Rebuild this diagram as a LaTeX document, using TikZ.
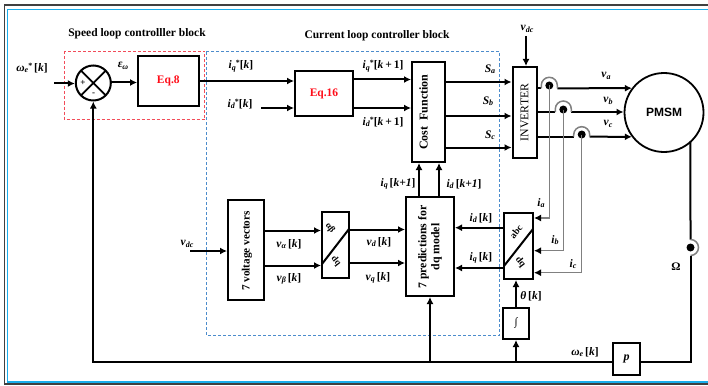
\documentclass[tikz,border=0pt]{standalone}
\usepackage{fontspec}
\setmainfont{Liberation Serif}
\setsansfont{Liberation Sans}
\usetikzlibrary{arrows.meta,calc}
\newcommand{\bi}[1]{\textbf{\textit{#1}}}
\newcommand{\subx}[1]{\raisebox{-1.5pt}{\footnotesize\bi{#1}}}
\newcommand{\vk}[2]{\bi{#1}\subx{#2}\,\textbf{[\textit{k}]}}
\newcommand{\vs}[3]{\bi{#1}\subx{#2}\raisebox{3pt}{\footnotesize\textbf{*}}\textbf{[\textit{k}#3]}}
\definecolor{sensegray}{gray}{0.5}
\definecolor{eqred}{rgb}{1,0.05,0.1}
\definecolor{dashred}{rgb}{0.95,0.3,0.35}
\definecolor{dashblue}{rgb}{0.3,0.55,0.8}
\definecolor{framecyan}{rgb}{0.1,0.68,0.92}
\tikzset{
  blk/.style={draw,line width=2pt,inner sep=0pt,outer sep=0pt},
  thinblk/.style={draw,line width=1.5pt,inner sep=0pt,outer sep=0pt},
  arr/.style={line width=2pt,-{Latex[length=7pt,width=7pt]},shorten >=1pt},
  lin/.style={line width=2pt},
  sense/.style={line width=1.5pt,draw=sensegray},
  sensearr/.style={line width=1.5pt,draw=sensegray,-{Latex[length=7pt,width=7pt,color=black]},shorten >=1pt},
  dotn/.style={circle,fill=black,inner sep=0pt,outer sep=0pt,minimum size=8pt},
  lab/.style={font=\fontsize{11.5}{12}\selectfont,inner sep=0pt},
  ttl/.style={font=\fontsize{11.5}{13}\selectfont\bfseries,inner sep=0pt},
  eqn/.style={font=\fontsize{11.5}{13}\selectfont\bfseries,text=eqred},
}
\begin{document}
\begin{tikzpicture}[x=1pt,y=-1pt]
\useasboundingbox (0,0) rectangle (708,385);
\fill[white] (0,0) rectangle (708,385);
% frames
\draw[line width=1.2pt,draw=black!75] (709,5) -- (4.5,5) -- (4.5,384) -- (709,384);
\draw[line width=1.2pt,draw=framecyan] (709,9.5) -- (7.5,9.5) -- (7.5,382) -- (709,382);
% dashed regions
\draw[dashblue,line width=1pt,dash pattern=on 3pt off 2pt] (206,52) rectangle (499.5,335);
\draw[dashred,line width=1pt,dash pattern=on 3pt off 2pt] (64.5,51.5) rectangle (204.5,119.5);
% titles
\node[ttl] (t1) at (137,34) {Speed loop controlller block};
\node[ttl] (t2) at (377,36) {Current loop controller block};
% blocks
\node[circle,draw,line width=2pt,minimum size=35pt,inner sep=0pt,outer sep=0pt] (sum) at (93.3,83) {};
\draw[line width=1.8pt] (sum.north west) -- (sum.south east) (sum.north east) -- (sum.south west);
\node[font=\fontsize{9}{10}\selectfont\bfseries,inner sep=0pt] (plus) at (83,83) {+};
\node[font=\fontsize{9}{10}\selectfont\bfseries,inner sep=0pt] (minus) at (93.5,94.5) {-};
\node[blk,minimum width=60.5pt,minimum height=50pt,eqn] (eq8) at (168.3,81) {Eq.8};
\node[blk,minimum width=58pt,minimum height=45pt,eqn] (eq16) at (324,93.5) {Eq.16};
\node[blk,minimum width=33pt,minimum height=100pt] (cost) at (428.5,112) {};
\node[rotate=90,font=\fontsize{12}{13}\selectfont\bfseries,inner sep=0pt] (costt) at (423.5,112) {Cost\ \ Function};
\node[blk,minimum width=24pt,minimum height=91pt] (inv) at (524.5,112.5) {};
\node[rotate=90,font=\fontsize{11.8}{13}\selectfont,inner sep=0pt] (invt) at (524.5,112.5) {INVERTER};
\node[circle,draw,line width=1.8pt,minimum size=79pt,inner sep=0pt,outer sep=0pt,font=\fontsize{12}{13}\selectfont\sffamily\bfseries] (pmsm) at (664,112.5) {PMSM};
\node[blk,minimum width=36pt,minimum height=100pt] (vv) at (246,250) {};
\node[rotate=90,font=\fontsize{11.2}{12}\selectfont\bfseries,inner sep=0pt] (vvt) at (247,251) {7 voltage vectors};
\node[thinblk,minimum width=27pt,minimum height=66pt] (ab) at (335.5,245) {};
\draw[line width=2pt] (ab.west |- 0,264) -- (ab.east |- 0,229);
\node[rotate=-52,font=\fontsize{9}{10}\selectfont\bfseries,inner sep=0pt] (abt) at (330,228) {αβ};
\node[rotate=-52,font=\fontsize{9}{10}\selectfont\bfseries,inner sep=0pt] (abd) at (336,261) {dq};
\node[blk,minimum width=48pt,minimum height=99pt] (pred) at (430,246.5) {};
\node[rotate=90,font=\fontsize{11.8}{13}\selectfont\bfseries,align=center,inner sep=0pt] (predt) at (430,247) {7 predictions for\\dq model};
\node[blk,minimum width=29pt,minimum height=66pt] (park) at (518.5,246) {};
\draw[line width=2pt] (park.west |- 0,266) -- (park.east |- 0,229);
\node[rotate=52,font=\fontsize{9.5}{10}\selectfont\bfseries,inner sep=0pt] (abc) at (516,231.5) {abc};
\node[rotate=-52,font=\fontsize{9.5}{10}\selectfont\bfseries,inner sep=0pt] (dq2) at (520.5,262.5) {dq};
\node[blk,minimum width=26pt,minimum height=31pt,font=\fontsize{11}{12}\selectfont\bfseries] (int) at (516,323.5) {∫};
\node[blk,minimum width=27pt,minimum height=32pt,font=\fontsize{12}{13}\selectfont\bfseries\itshape] (pb) at (626.5,359) {p};
% free ends
\coordinate (wstart) at (54,83.5);
\coordinate (idstart) at (261,108);
\coordinate (vdctop) at (526,36);
\coordinate (vdcl) at (190,251);
\coordinate (busx) at (93.3,362);
\coordinate (busr) at (690.5,362);
\coordinate (sa) at (549.3,85.5);
\coordinate (sb) at (563.3,109.5);
\coordinate (sc) at (581.7,134.5);
\coordinate (so) at (690.5,247.5);
\coordinate (aL) at (541.3,88.3);
\coordinate (aR) at (557.3,88.3);
\coordinate (bL) at (555.3,112);
\coordinate (bR) at (571.3,112);
\coordinate (cL) at (573.7,136.7);
\coordinate (cR) at (589.7,136.7);
\coordinate (oT) at (690.5,239.5);
\coordinate (oB) at (690.5,255.5);
% connectors: speed and current loop
\draw[arr] (wstart) -- (sum.west |- wstart);
\draw[arr] (sum.east |- 0,82.5) -- (eq8.west |- 0,82.5);
\draw[arr] (eq8.east |- 0,81) -- (eq16.west |- 0,81);
\draw[arr] (idstart) -- (eq16.west |- idstart);
\draw[arr] (eq16.east |- 0,79.5) -- (cost.west |- 0,79.5);
\draw[arr] (eq16.east |- 0,108) -- (cost.west |- 0,108);
\draw[arr] (cost.east |- 0,82) -- (inv.west |- 0,82);
\draw[arr] (cost.east |- 0,116) -- (inv.west |- 0,116);
\draw[arr] (cost.east |- 0,147.5) -- (inv.west |- 0,147.5);
\draw[arr] (vdctop) -- (vdctop |- inv.north);
% inverter to motor
\draw[lin] (inv.east |- aL) -- (aL);
\draw[lin] (inv.east |- bL) -- (bL);
\draw[lin] (inv.east |- cL) -- (cL);
\draw[arr] (aR) -- (pmsm.142);
\draw[arr] (bR) -- (pmsm.west |- bR);
\draw[arr] (cR) -- (pmsm.218);
\draw[sense] (aL) -- ++(0,-3) arc (180:360:8) -- (aR);
\draw[sense] (bL) -- ++(0,-3) arc (180:360:8) -- (bR);
\draw[sense] (cL) -- ++(0,-2) arc (180:360:8) -- (cR);
\node[dotn] (da) at (sa) {};
\node[dotn] (db) at (sb) {};
\node[dotn] (dc) at (sc) {};
% current sensors
\draw[sensearr] (da.center) -- (da.center |- 0,218) -- (park.east |- 0,218);
\draw[sensearr] (db.center) -- (db.center |- 0,250.7) -- (park.east |- 0,250.7);
\draw[sensearr] (dc.center) -- (dc.center |- 0,272.7) -- (park.east |- 0,272.7);
% lower part
\draw[arr] (vdcl) -- (vv.west |- vdcl);
\draw[arr] (vv.east |- 0,230.5) -- (ab.west |- 0,230.5);
\draw[arr] (vv.east |- 0,265.5) -- (ab.west |- 0,265.5);
\draw[arr] (ab.east |- 0,229.5) -- (pred.west |- 0,229.5);
\draw[arr] (ab.east |- 0,263) -- (pred.west |- 0,263);
\draw[arr] (park.west |- 0,227.7) -- (pred.east |- 0,227.7);
\draw[arr] (park.west |- 0,268) -- (pred.east |- 0,268);
\draw[arr] (pred.north -| 419,0) -- (cost.south -| 419,0);
\draw[arr] (pred.north -| 439,0) -- (cost.south -| 439,0);
\draw[arr] (int.north) -- (park.south -| int.north);
% shaft and feedback
\draw[lin] (pmsm.-48) -- (oT);
\draw[sense] (oT) arc (-90:90:8);
\node[dotn] (dout) at (so) {};
\draw[lin] (oB) -- (busr) -- (pb.east |- busr);
\draw[arr] (pb.west |- busx) -- (busx) -- (sum.south);
\draw[arr] (pred.south |- busx) -- (pred.south);
\draw[arr] (int.south |- busx) -- (int.south);
% labels
\node[lab] (l1) at (32,68) {\bi{ω}\subx{e}\raisebox{3pt}{\footnotesize\textbf{*}}\,\textbf{[\textit{k}]}};
\node[lab] (l2) at (123,66) {\bi{ε}\subx{ω}};
\node[lab] (l3) at (241,66) {\vs{i}{q}{}};
\node[lab] (l4) at (240,104) {\vs{i}{d}{}};
\node[lab] (l5) at (383,66) {\vs{i}{q}{\,+\,1}};
\node[lab] (l6) at (383,122) {\vs{i}{d}{\,+\,1}};
\node[lab] (l7) at (490,69) {\bi{S}\subx{a}};
\node[lab] (l8) at (488,101) {\bi{S}\subx{b}};
\node[lab] (l9) at (490,135) {\bi{S}\subx{c}};
\node[lab] (l10) at (527,29) {\bi{v}\subx{dc}};
\node[lab] (l11) at (606,76) {\bi{v}\subx{a}};
\node[lab] (l12) at (608,101) {\bi{v}\subx{b}};
\node[lab] (l13) at (608,124) {\bi{v}\subx{c}};
\node[lab] (l14) at (187,244) {\bi{v}\subx{dc}};
\node[lab] (l15) at (289,244) {\vk{v}{α}};
\node[lab] (l16) at (289,279) {\vk{v}{β}};
\node[lab] (l17) at (379,242) {\vk{v}{d}};
\node[lab] (l18) at (378,278) {\vk{v}{q}};
\node[lab] (l19) at (398,184) {\bi{i}\subx{q}\,\textbf{[\textit{k+1}]}};
\node[lab] (l20) at (464,184) {\bi{i}\subx{d}\,\textbf{[\textit{k+1}]}};
\node[lab] (l21) at (481,218) {\vk{i}{d}};
\node[lab] (l22) at (481,258) {\vk{i}{q}};
\node[lab] (l23) at (541,203) {\bi{i}\subx{a}};
\node[lab] (l24) at (555,240) {\bi{i}\subx{b}};
\node[lab] (l25) at (573,264) {\bi{i}\subx{c}};
\node[lab] (l26) at (531,296) {\bi{θ}\,\textbf{[\textit{k}]}};
\node[lab] (l27) at (676,267) {\textbf{Ω}};
\node[lab] (l28) at (585,352) {\vk{ω}{e}};
\end{tikzpicture}
\end{document}
